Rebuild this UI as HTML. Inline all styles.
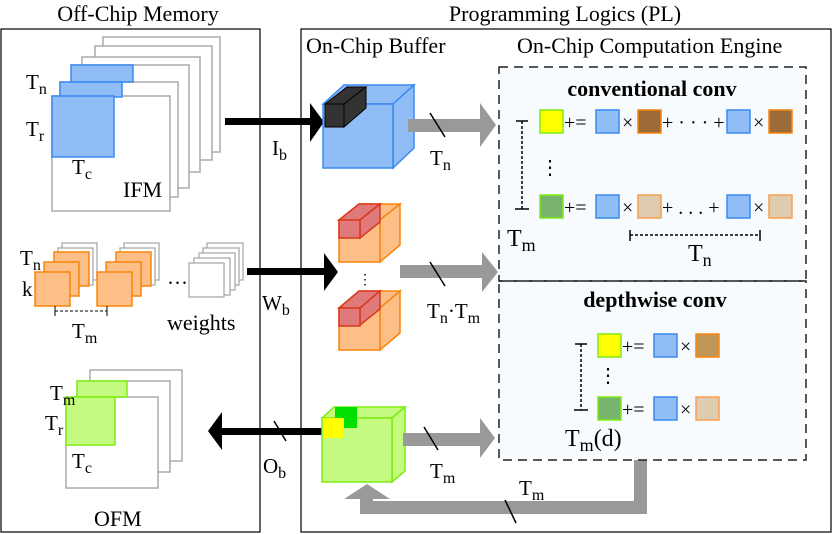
<!DOCTYPE html>
<html><head><style>body{margin:0;background:#fff}svg{display:block}text{font-family:"Liberation Serif",serif;fill:#000}</style></head><body>
<svg width="832" height="534" viewBox="0 0 832 534" xmlns="http://www.w3.org/2000/svg">
<text x="138" y="21" font-size="22" text-anchor="middle">Off-Chip Memory</text>
<text x="565" y="21" font-size="22" text-anchor="middle">Programming Logics (PL)</text>
<rect x="1" y="29" width="259" height="503" fill="none" stroke="#000" stroke-width="1.2"/>
<rect x="301" y="29" width="530" height="503" fill="none" stroke="#000" stroke-width="1.2"/>
<text x="306" y="53" font-size="22">On-Chip Buffer</text>
<text x="517" y="53" font-size="22">On-Chip Computation Engine</text>

<!-- IFM -->
<g fill="#fff" stroke="#aaa" stroke-width="1.5">
<rect x="103" y="37" width="117" height="115"/><rect x="95" y="46" width="117" height="114"/><rect x="82" y="57" width="118" height="115"/><rect x="72" y="65" width="117" height="123"/><rect x="60" y="82" width="118" height="115"/><rect x="52" y="96" width="118" height="115"/>
</g>
<g fill="#91bdf7" stroke="#3a8af0" stroke-width="1.5">
<rect x="71" y="65" width="62" height="17"/><rect x="60" y="82" width="62" height="15"/><rect x="52" y="96" width="62" height="61"/>
</g>

<!-- weights -->
<g fill="#fff" stroke="#aaa" stroke-width="1.3">
<rect x="62" y="243" width="35" height="37"/><rect x="58" y="248" width="35" height="37"/>
<rect x="124" y="243" width="35" height="37"/><rect x="120" y="248" width="35" height="37"/>
<rect x="207" y="243" width="36" height="37"/><rect x="203" y="248" width="36" height="37"/><rect x="199" y="253" width="36" height="37"/><rect x="194" y="258" width="36" height="37"/><rect x="189" y="263" width="35" height="34"/>
</g>
<g fill="#fdbf86" stroke="#f7850d" stroke-width="1.5">
<rect x="54" y="252" width="35" height="34"/><rect x="44" y="262" width="35" height="34"/><rect x="35" y="272" width="35" height="34"/>
<rect x="116" y="252" width="35" height="34"/><rect x="106" y="262" width="35" height="34"/><rect x="97" y="272" width="35" height="34"/>
</g>
<line x1="55" y1="311" x2="107" y2="311" stroke="#000" stroke-dasharray="3,2"/>
<line x1="55" y1="306" x2="55" y2="316" stroke="#000"/><line x1="107" y1="306" x2="107" y2="316" stroke="#000"/>

<!-- OFM -->
<g fill="#fff" stroke="#aaa" stroke-width="1.5">
<rect x="90" y="370" width="92" height="91"/><rect x="78" y="381" width="92" height="91"/><rect x="66" y="397" width="92" height="91"/>
</g>
<g fill="#c2fb80" stroke="#7fec12" stroke-width="1.5">
<rect x="77" y="381" width="50" height="16"/><rect x="66" y="397" width="49" height="48"/>
</g>

<g font-size="21">
<text x="26" y="89">T<tspan font-size="16" dy="5">n</tspan></text>
<text x="26" y="136">T<tspan font-size="16" dy="5">r</tspan></text>
<text x="72" y="174">T<tspan font-size="16" dy="5">c</tspan></text>
<text x="123" y="197" font-size="22">IFM</text>

<text x="20" y="265">T<tspan font-size="16" dy="5">n</tspan></text>
<text x="22" y="296">k</text>
<text x="167" y="290">···</text>
<text x="167" y="330" font-size="22">weights</text>
<text x="72" y="338">T<tspan font-size="16" dy="5">m</tspan></text>

<text x="50" y="400">T<tspan font-size="16" dy="5">m</tspan></text>
<text x="45" y="430">T<tspan font-size="16" dy="5">r</tspan></text>
<text x="72" y="468">T<tspan font-size="16" dy="5">c</tspan></text>
<text x="94" y="526" font-size="22">OFM</text>
</g>

<!-- black arrows -->
<rect x="225" y="118" width="88" height="7"/><polygon points="310,103 324,122 310,142"/>
<rect x="247" y="268" width="80" height="7"/><polygon points="324,253 338,272 324,291"/>
<rect x="222" y="428" width="100" height="7"/><polygon points="222,412 208,431 222,450"/>
<line x1="274" y1="421" x2="286" y2="441" stroke="#000" stroke-width="1.5"/>
<g font-size="21">
<text x="272" y="155">I<tspan font-size="16" dy="5">b</tspan></text>
<text x="262" y="310">W<tspan font-size="16" dy="5">b</tspan></text>
<text x="263" y="473">O<tspan font-size="16" dy="5">b</tspan></text>
</g>

<!-- blue cube -->
<g stroke="#3a8af0" stroke-width="1.5" fill="#91bdf7">
<polygon points="323,104 344,85 414,85 393,104"/><polygon points="393,104 414,85 414,148 393,168"/><rect x="323" y="104" width="70" height="64"/>
</g>
<g stroke="#000" stroke-width="1" fill="#333">
<polygon points="325,104 347,87 366,87 344,104"/><polygon points="344,104 366,87 366,108 344,127"/><rect x="325" y="104" width="19" height="23"/>
</g>
<!-- orange cubes -->
<g stroke="#f7850d" stroke-width="1.5" fill="#fdbf86">
<polygon points="339,220 359,204 400,204 380,220"/><polygon points="380,220 400,204 400,245 380,262"/><rect x="339" y="220" width="41" height="42"/>
<polygon points="339,308 359,291 400,291 380,308"/><polygon points="380,308 400,291 400,333 380,350"/><rect x="339" y="308" width="41" height="42"/>
</g>
<g stroke="#d9381e" stroke-width="1.5" fill="#e07a7a">
<polygon points="339,220 359,204 380,204 360,220"/><polygon points="360,220 380,204 380,222 360,238"/><rect x="339" y="220" width="21" height="18"/>
<polygon points="339,308 359,291 380,291 360,308"/><polygon points="360,308 380,291 380,309 360,325"/><rect x="339" y="308" width="21" height="18"/>
</g>
<text x="358" y="284" font-size="14">⋮</text>
<!-- green cube -->
<g stroke="#7fec12" stroke-width="1.5" fill="#c2fb80">
<polygon points="322,418 334,407 405,407 392,418"/><polygon points="392,418 405,407 405,471 392,482"/><rect x="322" y="418" width="70" height="64"/>
</g>
<rect x="335" y="407" width="22" height="11" fill="#00e000"/><rect x="344" y="418" width="13" height="10" fill="#00e000"/><rect x="323" y="418" width="20" height="20" fill="#ffff00"/>

<!-- gray arrows -->
<g fill="#999">
<rect x="408" y="119" width="74" height="13"/><polygon points="480,103 496,125 480,147"/>
<rect x="400" y="265" width="84" height="13"/><polygon points="482,252 498,272 482,292"/>
<rect x="403" y="433" width="79" height="13"/><polygon points="480,418 495,438 480,458"/>
<rect x="634" y="458" width="13" height="55"/><rect x="360" y="501" width="287" height="13"/><rect x="360" y="490" width="13" height="24"/><polygon points="344,499 367,484 390,499"/>
</g>
<g stroke="#000" stroke-width="1.5">
<line x1="430" y1="113" x2="445" y2="137"/><line x1="430" y1="262" x2="445" y2="286"/><line x1="424" y1="427" x2="438" y2="450"/><line x1="505" y1="500" x2="516" y2="523"/>
</g>
<g font-size="21">
<text x="430" y="165">T<tspan font-size="16" dy="5">n</tspan></text>
<text x="427" y="318">T<tspan font-size="16" dy="5">n</tspan><tspan dy="-5">·T</tspan><tspan font-size="16" dy="5">m</tspan></text>
<text x="430" y="478">T<tspan font-size="16" dy="5">m</tspan></text>
<text x="519" y="495">T<tspan font-size="16" dy="5">m</tspan></text>
</g>

<!-- engine boxes -->
<rect x="499" y="67" width="307" height="393" fill="#f7fbfd"/>
<g fill="none" stroke="#222" stroke-width="1.5" stroke-dasharray="9,6">
<rect x="499" y="67" width="307" height="214"/><rect x="499" y="281" width="307" height="179"/>
</g>
<text x="652" y="96" font-size="22" font-weight="bold" text-anchor="middle">conventional conv</text>
<text x="655" y="307" font-size="22" font-weight="bold" text-anchor="middle">depthwise conv</text>
<g stroke-width="1.5">
<rect x="540" y="110" width="23" height="23" fill="#ffff00" stroke="#7fec12"/>
<rect x="596" y="110" width="23" height="23" fill="#91bdf7" stroke="#3a8af0"/>
<rect x="638" y="110" width="23" height="23" fill="#9c6b38" stroke="#f7850d"/>
<rect x="727" y="110" width="23" height="23" fill="#91bdf7" stroke="#3a8af0"/>
<rect x="769" y="110" width="23" height="23" fill="#9c6b38" stroke="#f7850d"/>
<rect x="540" y="195" width="23" height="23" fill="#78b46c" stroke="#7fec12"/>
<rect x="596" y="195" width="23" height="23" fill="#91bdf7" stroke="#3a8af0"/>
<rect x="638" y="195" width="23" height="23" fill="#dfcbad" stroke="#f7a050"/>
<rect x="727" y="195" width="23" height="23" fill="#91bdf7" stroke="#3a8af0"/>
<rect x="769" y="195" width="23" height="23" fill="#dfcbad" stroke="#f7a050"/>
<rect x="598" y="334" width="23" height="23" fill="#ffff00" stroke="#7fec12"/>
<rect x="654" y="334" width="23" height="23" fill="#91bdf7" stroke="#3a8af0"/>
<rect x="696" y="334" width="23" height="23" fill="#c09658" stroke="#f7850d"/>
<rect x="598" y="397" width="23" height="23" fill="#78b46c" stroke="#7fec12"/>
<rect x="654" y="397" width="23" height="23" fill="#91bdf7" stroke="#3a8af0"/>
<rect x="696" y="397" width="23" height="23" fill="#dfcbad" stroke="#f7a050"/>
</g>
<g font-size="20" fill="#333">
<text x="564" y="129">+=</text><text x="622" y="129">×</text><text x="662" y="129">+ · · · +</text><text x="753" y="129">×</text>
<text x="564" y="214">+=</text><text x="622" y="214">×</text><text x="662" y="214">+ . . .  +</text><text x="753" y="214">×</text>
<text x="622" y="353">+=</text><text x="680" y="353">×</text>
<text x="622" y="416">+=</text><text x="680" y="416">×</text>
</g>
<text x="540" y="174" font-size="20">⋮</text>
<text x="598" y="382" font-size="20">⋮</text>
<g stroke="#000" stroke-width="1.5">
<line x1="522" y1="121" x2="522" y2="209" stroke-dasharray="3,2"/><line x1="516" y1="121" x2="528" y2="121"/><line x1="515" y1="209" x2="529" y2="209"/>
<line x1="630" y1="235" x2="760" y2="235" stroke-dasharray="3,2"/><line x1="630" y1="230" x2="630" y2="241"/><line x1="760" y1="230" x2="760" y2="241"/>
<line x1="581" y1="344" x2="581" y2="410" stroke-dasharray="3,2"/><line x1="575" y1="344" x2="587" y2="344"/><line x1="574" y1="410" x2="588" y2="410"/>
</g>
<text x="507" y="246" font-size="24">T<tspan font-size="18" dy="5">m</tspan></text>
<text x="688" y="261" font-size="24">T<tspan font-size="18" dy="5">n</tspan></text>
<text x="565" y="446" font-size="24">T<tspan font-size="18" dy="5">m</tspan><tspan dy="-5">(d)</tspan></text>
</svg>
</body></html>
